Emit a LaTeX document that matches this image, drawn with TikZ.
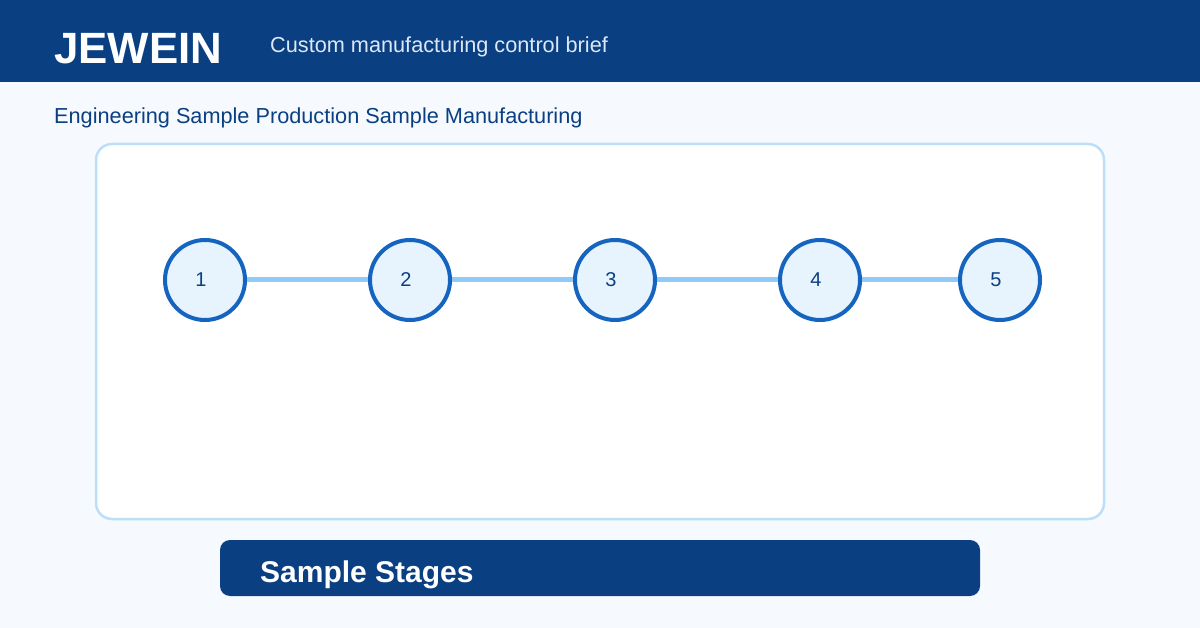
\documentclass[tikz,border=0pt]{standalone}
\usepackage{fontspec}
\setmainfont{Liberation Sans}
\definecolor{navy}{HTML}{0A3F82}
\definecolor{pagebg}{HTML}{F6FAFF}
\definecolor{panelline}{HTML}{BBDEFB}
\definecolor{ringblue}{HTML}{1565C0}
\definecolor{ringfill}{HTML}{E8F4FD}
\definecolor{linkblue}{HTML}{90CAF9}
\definecolor{subtext}{HTML}{DCE8F7}
\tikzset{
  stage/.style={circle, draw=ringblue, line width=4pt, fill=ringfill, minimum size=80pt, inner sep=0pt, text=navy, font=\fontsize{20}{24}\selectfont},
  link/.style={draw=linkblue, line width=5pt},
  txt/.style={anchor=base west, inner sep=0pt}
}
\newcommand{\stnum}[1]{\hspace*{-8pt}#1}
\begin{document}
\begin{tikzpicture}[x=1pt,y=-1pt]
\useasboundingbox (0,0) rectangle (1200,628);
\fill[pagebg] (0,0) rectangle (1200,628);
\fill[navy] (0,0) rectangle (1200,82);
\node[txt, text=white, font=\bfseries\fontsize{43.8}{50}\selectfont] (brand) at (54,64) {JEWEIN};
\node[txt, text=subtext, font=\fontsize{21.7}{26}\selectfont] (sub) at (270,53) {Custom manufacturing control brief};
\node[txt, text=navy, font=\fontsize{21.7}{26}\selectfont] (heading) at (54,124) {Engineering Sample Production Sample Manufacturing};
\draw[panelline, line width=2.5pt, fill=white, rounded corners=16pt] (96,144) rectangle (1104,519);
\node[stage] (s1) at (205,280) {\stnum{1}};
\node[stage] (s2) at (410,280) {\stnum{2}};
\node[stage] (s3) at (615,280) {\stnum{3}};
\node[stage] (s4) at (820,280) {\stnum{4}};
\node[stage] (s5) at (1000,280) {\stnum{5}};
\draw[link] (s1) -- (s2);
\draw[link] (s2) -- (s3);
\draw[link] (s3) -- (s4);
\draw[link] (s4) -- (s5);
\fill[navy, rounded corners=10pt] (220,540) rectangle (980,596);
\node[txt, text=white, font=\bfseries\fontsize{30}{36}\selectfont] (bar) at (260,582) {Sample Stages};
\end{tikzpicture}
\end{document}
